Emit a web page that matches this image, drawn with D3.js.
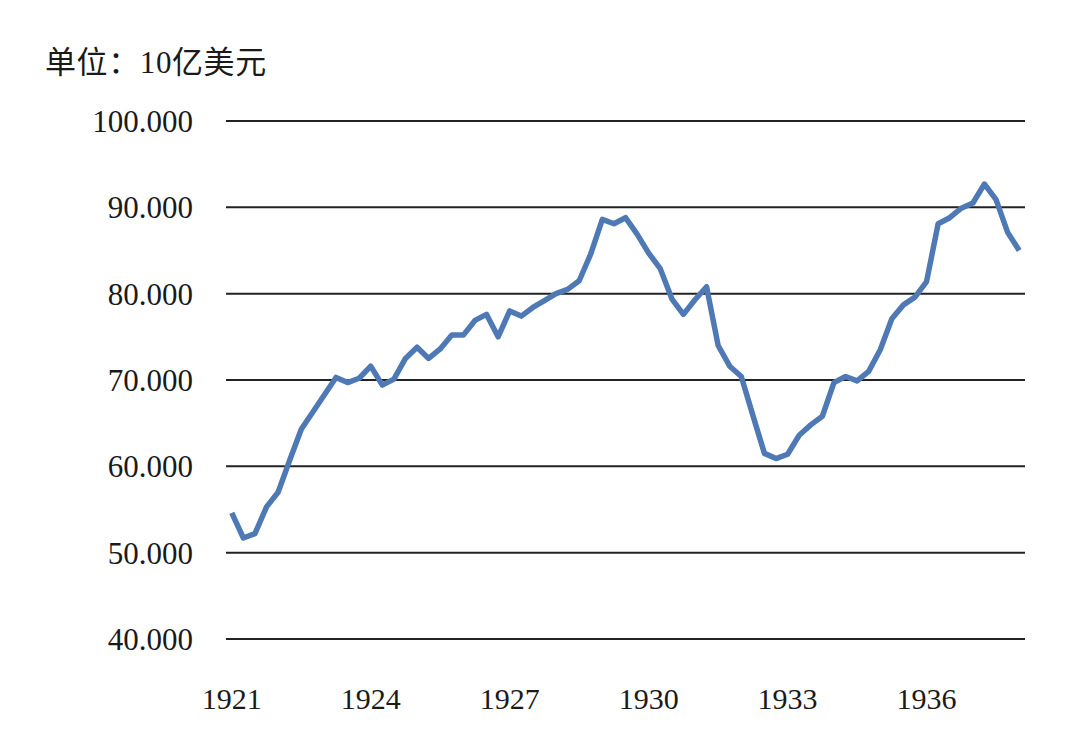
<!DOCTYPE html>
<html>
<head>
<meta charset="utf-8">
<script src="https://cdn.jsdelivr.net/npm/d3@7/dist/d3.min.js"></script>
<style>
    body { margin: 0; background: #fff; }
    svg text { font-family: "Liberation Serif", "Noto Sans CJK SC", serif; fill: #1a1a1a; }
</style>
</head>
<body>
<svg id="chart" width="1073" height="739"></svg>
<script>
'use strict';

// quarterly values, 1921 Q1 .. 1938 Q1 (billions of dollars)
let values = [
    54.6, 51.7, 52.2, 55.3, 57.0, 60.7, 64.3, 66.3, 68.3, 70.3, 69.7, 70.2,
    71.6, 69.4, 70.1, 72.5, 73.8, 72.5, 73.6, 75.2, 75.2, 76.9, 77.6, 75.0,
    78.0, 77.4, 78.4, 79.2, 80.0, 80.5, 81.5, 84.6, 88.6, 88.1, 88.8, 86.9,
    84.7, 82.9, 79.4, 77.6, 79.3, 80.8, 74.0, 71.6, 70.4, 65.9, 61.5, 60.9,
    61.4, 63.6, 64.8, 65.8, 69.7, 70.4, 69.9, 71.0, 73.5, 77.1, 78.7, 79.6,
    81.4, 88.1, 88.8, 89.9, 90.5, 92.7, 90.9, 87.1, 85.0
];
let yTicks = [40, 50, 60, 70, 80, 90, 100];
let xTickLabels = ["1921", "1924", "1927", "1930", "1933", "1936"];
let unitLabel = "单位：10亿美元";

let BLUE = "#4f79b5",
    GRID = "#222";

// one category per quarter, e.g. "1921Q1"
let quarters = values.map(function(v, i) {
    return (1921 + Math.floor(i / 4)) + "Q" + (i % 4 + 1);
});

let svg = d3.select("#chart");

let x = d3.scalePoint()
    .domain(quarters)
    .range([226, 1025])
    .padding(0.5);

let y = d3.scaleLinear()
    .domain([40, 100])
    .range([639, 121]);

// horizontal grid lines
svg.append("g")
    .selectAll("line")
    .data(yTicks)
    .enter().append("line")
    .attr("x1", 226)
    .attr("x2", 1025)
    .attr("y1", function(d) { return y(d); })
    .attr("y2", function(d) { return y(d); })
    .style("stroke", GRID)
    .style("stroke-width", 2);

// y labels
svg.append("g")
    .selectAll("text")
    .data(yTicks)
    .enter().append("text")
    .attr("x", 193)
    .attr("y", function(d) { return y(d); })
    .attr("dy", "0.36em")
    .attr("text-anchor", "end")
    .style("font-size", "31px")
    .text(function(d) { return d.toFixed(3); });

// x labels, every 12 quarters
svg.append("g")
    .selectAll("text")
    .data(xTickLabels)
    .enter().append("text")
    .attr("x", function(d) { return x(d + "Q1"); })
    .attr("y", 709)
    .attr("text-anchor", "middle")
    .style("font-size", "30px")
    .text(function(d) { return d; });

let line = d3.line()
    .x(function(d, i) { return x(quarters[i]); })
    .y(function(d) { return y(d); });

svg.append("path")
    .datum(values)
    .attr("d", line)
    .style("fill", "none")
    .style("stroke", BLUE)
    .style("stroke-width", 5.5)
    .style("stroke-linejoin", "round");

svg.append("text")
    .attr("x", 45)
    .attr("y", 73)
    .style("font-size", "31px")
    .style("letter-spacing", "0.6px")
    .text(unitLabel);
</script>
</body>
</html>
